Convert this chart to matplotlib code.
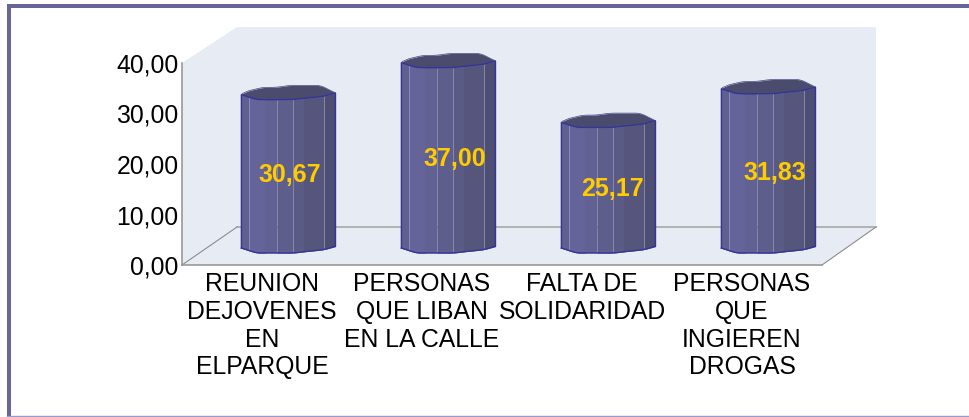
import matplotlib
matplotlib.use("Agg")
import matplotlib.pyplot as plt
from matplotlib.lines import Line2D
from matplotlib.patches import Rectangle
import numpy as np

# Data
categorias = ["REUNION\nDEJOVENES\nEN\nELPARQUE",
              "PERSONAS\nQUE LIBAN\nEN LA CALLE",
              "FALTA DE\nSOLIDARIDAD",
              "PERSONAS\nQUE\nINGIEREN\nDROGAS"]
valores = [30.67, 37.00, 25.17, 31.83]
ticks_y = [0, 10, 20, 30, 40]

plt.rcParams['font.family'] = ['Liberation Sans', 'DejaVu Sans']

W, H = 969, 417
X0, X1, Y0, Y40 = 182, 822, 265, 63   # front plane, in pixels
PX_X = (X1 - X0) / 4
PX_Y = (Y0 - Y40) / 40

fig = plt.figure(figsize=(W / 100, H / 100), dpi=100, facecolor='white')
ax = fig.add_axes([X0 / W, 1 - Y0 / H, (X1 - X0) / W, (Y0 - Y40) / H])
ax.set_xlim(-0.5, 3.5)
ax.set_ylim(0, 40)
ax.patch.set_visible(False)

def cx(x):
    return (x - X0) / PX_X - 0.5

def cy(y):
    return (Y0 - y) / PX_Y

# Walls and floor
pared = '#e7ecf4'
ax.fill(cx(np.array([237, 876, 876, 237])), cy(np.array([27, 27, 227, 227])), color=pared, lw=0, clip_on=False, zorder=0)
ax.fill(cx(np.array([182, 237, 237, 182])), cy(np.array([63, 27, 227, 265])), color=pared, lw=0, clip_on=False, zorder=0)
ax.fill(cx(np.array([182, 237, 876, 822])), cy(np.array([265, 227, 227, 265])), color=pared, lw=0, clip_on=False, zorder=0)
ax.plot(cx(np.array([237, 876])), cy(np.array([227, 227])), color='#a8a8a8', lw=1.2, clip_on=False, zorder=1)
ax.plot(cx(np.array([182, 237])), cy(np.array([265, 227])), color='#8c8c8c', lw=0.8, clip_on=False, zorder=1)
ax.plot(cx(np.array([822, 876])), cy(np.array([265, 227])), color='#8c8c8c', lw=0.8, clip_on=False, zorder=1)

# Lumpy cylinder shape, offsets in pixels above the front edge
curva_f = np.array([0, 0.16, 0.55, 0.70, 0.875, 1])
curva_y = np.array([5, 0, 0, 1.7, 3.3, 6.7])
tapa_f = np.array([0, 0.05, 0.23, 0.37, 0.52, 0.84, 1])
tapa_y = np.array([5, 8.3, 12.3, 12.3, 14.3, 14.3, 6.7])
franjas = [0, 0.08, 0.25, 0.38, 0.545, 0.66, 0.875, 1]
colores = ['#5f5f90', '#64649a', '#616194', '#5e5e8c', '#5a5a85', '#56567c', '#4e4e72']
lineas = [0.08, 0.545, 0.875]
ancho = 94 / PX_X
borde = '#34349a'
base = 12 / PX_Y      # bar foot sits 12 px above the front edge
dx_bar = 0.165
dx_texto = [1, 6, 4, 6]

malla = np.linspace(0, 1, 201)

def suave(f, fp, yp):
    # rounds the corners of the outline
    y = np.interp(malla, fp, yp)
    y = np.convolve(np.r_[np.full(10, y[0]), y, np.full(10, y[-1])], np.ones(21) / 21, mode='valid')
    y[:8] = y[8] + (y[8] - y[16]) * (8 - np.arange(8)) / 8
    y[-8:] = y[-9] + (y[-9] - y[-17]) * (np.arange(8) + 1) / 8
    return np.interp(f, malla, y)

for i, v in enumerate(valores):
    izq = i + dx_bar - ancho / 2
    techo = base + v - 0.3
    for k, c in enumerate(colores):
        f = np.linspace(franjas[k], franjas[k + 1], 12)
        off = suave(f, curva_f, curva_y) / PX_Y
        ax.fill_between(izq + f * ancho, base + off, techo + off, color=c, lw=0.3, clip_on=False, zorder=2)
    for f in lineas:
        off = suave(f, curva_f, curva_y) / PX_Y
        ax.plot([izq + f * ancho] * 2, [base + off, techo + off], color='#8f8fb6', lw=0.6, clip_on=False, zorder=3)
    # cap
    f = np.linspace(0, 1, 80)
    frente = techo + suave(f, curva_f, curva_y) / PX_Y
    atras = techo + suave(f, tapa_f, tapa_y) / PX_Y
    atras = np.maximum(atras, frente)
    atras[0] = frente[0]
    atras[-1] = frente[-1]
    ax.fill_between(izq + f * ancho, frente, atras, color='#4b4b6e', lw=0, clip_on=False, zorder=3)
    # outline
    pie = base + suave(f, curva_f, curva_y) / PX_Y
    xs = izq + f * ancho
    ax.plot(np.r_[xs, xs[::-1], xs[0]], np.r_[pie, frente[::-1], pie[0]], color=borde, lw=1, clip_on=False, zorder=4)
    ax.plot(xs, atras, color='#44447c', lw=0.5, clip_on=False, zorder=4)
    ax.text(i + dx_bar + dx_texto[i] / PX_X, v / 2 + 2.4, f"{v:.2f}".replace('.', ','),
            color='#ffcc00', fontsize=18, fontweight='bold', ha='center', va='center', zorder=5)

# Axes
ax.set_xticks(range(4))
ax.set_xticklabels(categorias, fontsize=17.8, linespacing=1.2, color='black')
ax.set_yticks(ticks_y)
ax.set_yticklabels([f"{t:.2f}".replace('.', ',') for t in ticks_y], fontsize=17.8, color='black')
ax.tick_params(axis='x', length=0, pad=5)
ax.tick_params(axis='y', length=0, pad=2.5)
for lado in ['top', 'right']:
    ax.spines[lado].set_visible(False)
for lado in ['left', 'bottom']:
    ax.spines[lado].set_color('#999999')
    ax.spines[lado].set_linewidth(1.2)

# Frame round the picture
marco = '#666699'
fig.add_artist(Rectangle((7 / W, 0), 4 / W, 1 - 4 / H, transform=fig.transFigure, color=marco, lw=0))
fig.add_artist(Rectangle((7 / W, 1 - 8 / H), 1 - 7 / W, 4 / H, transform=fig.transFigure, color=marco, lw=0))
fig.add_artist(Line2D([7 / W, 1], [0.6 / H, 0.6 / H], transform=fig.transFigure, color='#9999cc', lw=1))

fig.savefig('out.png', dpi=100)
